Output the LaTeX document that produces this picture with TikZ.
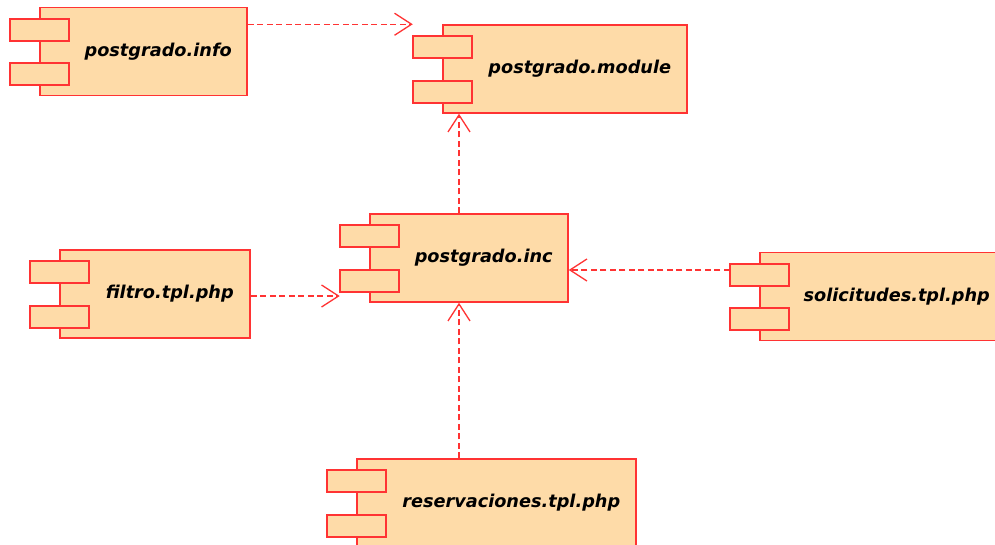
\documentclass[tikz,border=0pt]{standalone}
\usepackage{fontspec}
\setsansfont{DejaVu Sans}
\usetikzlibrary{arrows.meta,positioning}
\usepackage{xcolor}
\definecolor{compfill}{RGB}{254,219,168}
\definecolor{compline}{RGB}{255,51,51}

\begin{document}
\begin{tikzpicture}[x=1pt,y=-1pt]
      \tikzstyle{comp} = [draw=compline, fill=compfill, line width=1.5pt, minimum height=88pt, inner sep=0pt,
        font=\sffamily\bfseries\itshape\fontsize{17.7}{20}\selectfont, execute at begin node={\hspace*{29.5pt}}]
      \tikzstyle{tab} = [draw=compline, fill=compfill, line width=1.7pt]
      \tikzstyle{dep} = [draw=compline, line width=1.3pt, dash pattern=on 6pt off 3.5pt,
        -{Straight Barb[length=17pt,width=22pt]}]

      \useasboundingbox (0,0) rectangle (995,544);

      \node[comp, minimum width=207pt] (info) at (143.5,51.5) {postgrado.info};
      \node[comp, minimum width=244pt] (module) at (565,69) {postgrado.module};
      \node[comp, minimum width=198pt] (inc) at (469,258) {postgrado.inc};
      \node[comp, minimum width=190pt] (filtro) at (155,294) {filtro.tpl.php};
      \node[comp, minimum width=244pt] (solic) at (882,296.5) {solicitudes.tpl.php};
      \node[comp, minimum width=279pt] (reserv) at (496.5,503) {reservaciones.tpl.php};

      % the two little tabs on the left side of every component
      \foreach \c in {info,module,inc,filtro,solic,reserv} {
        \draw[tab] ([xshift=-29.5pt,yshift=-12pt]\c.north west) rectangle ++(59,22);
        \draw[tab] ([xshift=-29.5pt,yshift=11pt]\c.south west) rectangle ++(59,-22);
      }

      \coordinate (modcorner) at ([xshift=-29.5pt]module.north west);
      \coordinate (inctab) at ([xshift=-29.5pt]inc.west);
      \coordinate (solictab) at ([xshift=-29.5pt]solic.west);

      \draw[dep] (info.east |- modcorner) -- (modcorner);
      \draw[dep] ([xshift=-10pt]inc.north) -- ([xshift=-10pt]inc.north |- module.south);
      \draw[dep] ([xshift=-10pt]inc.south |- reserv.north) -- ([xshift=-10pt]inc.south);
      \draw[dep] ([yshift=-2pt]filtro.east) -- ([yshift=-2pt]filtro.east -| inctab);
      \draw[dep] ([yshift=-12pt]inc.east -| solictab) -- ([yshift=-12pt]inc.east);
    \end{tikzpicture}
\end{document}
